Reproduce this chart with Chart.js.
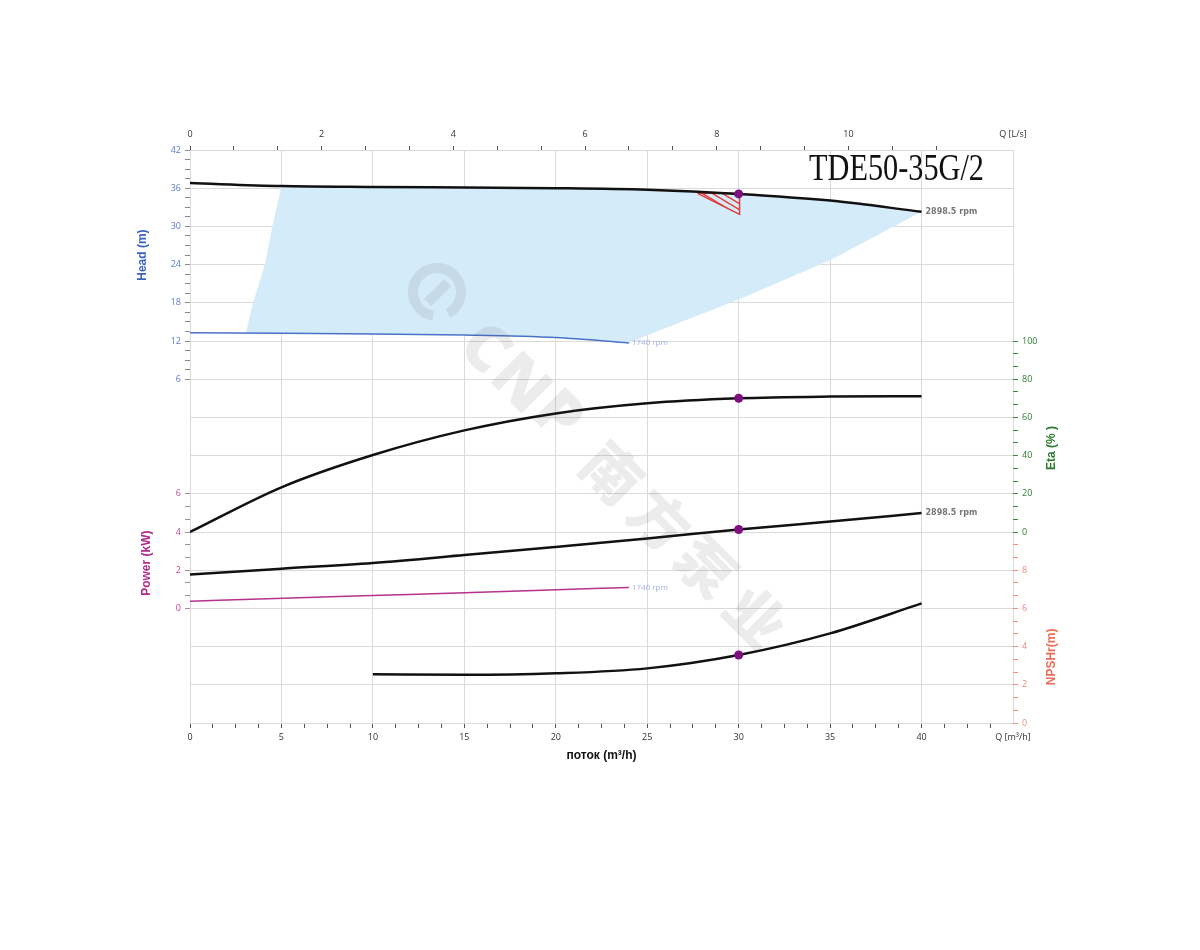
<!DOCTYPE html>
<html>
<head>
<meta charset="utf-8">
<title>TDE50-35G/2</title>
<script src="https://cdn.jsdelivr.net/npm/chart.js@4.4.1/dist/chart.umd.min.js"></script>
<style>
  html, body { margin: 0; padding: 0; background: #fff; }
  canvas { display: block; }
</style>
</head>
<body>
<canvas id="grafico" width="1200" height="950"></canvas>
<script>
// ==============================
// Datos (Q en m³/h)
// ==============================
const qHead = [0, 5, 10, 15, 20, 25, 30, 35, 40];
const head2898 = [36.8, 36.35, 36.2, 36.1, 36.0, 35.75, 35.1, 34.05, 32.3];
const q1740 = [0, 5, 10, 15, 20, 24];
const head1740 = [13.3, 13.2, 13.1, 12.95, 12.55, 11.7];
const eta = [0, 23.4, 40.3, 53.2, 62.1, 67.4, 70.0, 70.9, 71.1];
const power2898 = [1.78, 2.08, 2.38, 2.79, 3.22, 3.66, 4.13, 4.55, 4.99];
const qPower1740 = [0, 6, 12, 18, 24];
const power1740 = [0.38, 0.56, 0.73, 0.91, 1.1];
const qNpsh = [10, 15, 20, 25, 30, 35, 40];
const npsh = [2.55, 2.52, 2.6, 2.86, 3.56, 4.69, 6.26];
const dutyQ = 30;

// limites de la zona de trabajo (azul)
const rightEdgeQ = [40, 35, 30, 25, 24];
const rightEdgeH = [32.3, 24.7, 18.5, 12.9, 11.7];
const leftEdgeQ = [3.05, 3.45, 4.1, 4.5, 5];
const leftEdgeH = [13.2, 18, 24, 30, 36.35];

// triangulo rayado
const triQ = [27.75, 30.05, 30.05, 27.75];
const triH = [35.2, 35.2, 31.9, 35.2];

// ==============================
const pts = (xs, ys) => xs.map((x, i) => ({ x: x, y: ys[i] }));
const near = (v, m) => Math.abs(v / m - Math.round(v / m)) < 1e-6;
const clear = 'rgba(0,0,0,0)';
const gridColor = '#dadada';

const areaPts = [
    ...pts(qHead, head2898).filter(p => p.x >= 5),
    ...pts(rightEdgeQ, rightEdgeH),
    ...pts(q1740, head1740).filter(p => p.x >= 5 && p.x < 24).reverse(),
    ...pts(leftEdgeQ, leftEdgeH)
];

const canvas = document.getElementById('grafico');
const ctx = canvas.getContext('2d');

// patron rayado rojo
const hatch = document.createElement('canvas');
hatch.width = 10; hatch.height = 6;
const hc = hatch.getContext('2d');
hc.strokeStyle = '#e53935';
hc.lineWidth = 1.5;
hc.beginPath();
for (let k = -1; k <= 1; k++) {
    hc.moveTo(0, 6 * k);
    hc.lineTo(10, 6 * k + 6);
}
hc.stroke();
const hatchPattern = ctx.createPattern(hatch, 'repeat');

const dutyRadius = c => (c.raw && c.raw.x === dutyQ) ? 4.5 : 0;

const curve = (label, data, axis, color, width, marker) => ({
    label: label,
    data: data,
    xAxisID: 'x',
    yAxisID: axis,
    borderColor: color,
    borderWidth: width,
    fill: false,
    cubicInterpolationMode: 'monotone',
    pointRadius: marker ? dutyRadius : 0,
    pointBackgroundColor: '#7d0f80',
    pointBorderWidth: 0,
    order: 1
});

// textos fijos
const textos = {
    id: 'textos',
    afterDatasetsDraw(chart) {
        const c = chart.ctx;
        const s = chart.scales;
        c.save();

        // marca de agua
        c.save();
        c.translate(437, 292);
        c.rotate(Math.PI / 4);
        c.fillStyle = 'rgba(70,70,70,0.10)';
        c.strokeStyle = 'rgba(70,70,70,0.10)';
        c.lineWidth = 10;
        c.beginPath();
        c.arc(0, 0, 24, 0.3 * Math.PI, 2.1 * Math.PI);
        c.stroke();
        c.fillRect(-4, -14, 10, 28);
        c.textAlign = 'center';
        c.textBaseline = 'middle';
        const latin = '900 64px "Noto Sans"';
        const cjk = '900 58px "Noto Sans CJK SC"';
        const marca = [['C', 74, 8, latin], ['N', 124, 8, latin], ['P', 173, 4, latin],
            ['南', 252, 4, cjk], ['方', 319, 4, cjk], ['泵', 385, 4, cjk], ['业', 455, 4, cjk]];
        marca.forEach(m => {
            c.font = m[3];
            c.fillText(m[0], m[1], m[2]);
        });
        c.restore();

        // etiquetas de velocidad
        c.textAlign = 'left';
        c.textBaseline = 'middle';
        c.font = 'bold 8px "DejaVu Sans"';
        c.fillStyle = '#777';
        const qEnd = qHead[qHead.length - 1];
        c.fillText('2898.5 rpm', s.x.getPixelForValue(qEnd) + 4, s.yH.getPixelForValue(head2898[head2898.length - 1]));
        c.fillText('2898.5 rpm', s.x.getPixelForValue(qEnd) + 4, s.yP.getPixelForValue(power2898[power2898.length - 1]));
        c.font = '8px "Open Sans"';
        c.fillStyle = '#a6afe6';
        c.fillText('1740 rpm', s.x.getPixelForValue(q1740[q1740.length - 1]) + 3, s.yH.getPixelForValue(head1740[head1740.length - 1]));
        c.fillText('1740 rpm', s.x.getPixelForValue(qPower1740[qPower1740.length - 1]) + 3, s.yP.getPixelForValue(power1740[power1740.length - 1]));

        // titulo del modelo
        c.save();
        c.font = '37px "Liberation Serif"';
        c.fillStyle = '#111';
        c.textBaseline = 'alphabetic';
        const w = c.measureText('TDE50-35G/2').width;
        const sx = Math.min(1, 175 / w);
        c.translate(984 - w * sx, 180);
        c.scale(sx, 1);
        c.fillText('TDE50-35G/2', 0, 0);
        c.restore();

        // titulos de ejes
        const vertical = (txt, x, y, color) => {
            c.save();
            c.translate(x, y);
            c.rotate(-Math.PI / 2);
            c.textAlign = 'center';
            c.textBaseline = 'middle';
            c.font = 'bold 12px "Liberation Sans"';
            c.fillStyle = color;
            c.fillText(txt, 0, 0);
            c.restore();
        };
        vertical('Head (m)', 143, s.yH.getPixelForValue(25.5), '#3d64c4');
        vertical('Power (kW)', 147, s.yP.getPixelForValue(2.37), '#b0288a');
        vertical('Eta (% )', 1052, s.yE.getPixelForValue(44), '#2a7a2a');
        vertical('NPSHr(m)', 1052, s.yN.getPixelForValue(3.46), '#ec6e5a');

        c.textAlign = 'center';
        c.textBaseline = 'middle';
        c.font = 'bold 12px "Liberation Sans"';
        c.fillStyle = '#111';
        c.fillText('поток (m³/h)', (chart.chartArea.left + chart.chartArea.right) / 2, 756);
        c.restore();
    }
};

const tickFont = { family: '"Open Sans"', size: 9 };

new Chart(ctx, {
    type: 'line',
    data: {
        datasets: [
            {
                label: 'zona',
                data: areaPts,
                xAxisID: 'x',
                yAxisID: 'yH',
                fill: 'shape',
                backgroundColor: '#d4ebf9',
                borderWidth: 0,
                pointRadius: 0,
                tension: 0,
                order: 10
            },
            {
                label: 'npsh zona',
                data: pts(triQ, triH),
                xAxisID: 'x',
                yAxisID: 'yH',
                fill: 'shape',
                backgroundColor: hatchPattern,
                borderColor: '#e53935',
                borderWidth: 1.4,
                pointRadius: 0,
                tension: 0,
                order: 5
            },
            curve('H 2898.5', pts(qHead, head2898), 'yH', '#111', 2.5, true),
            curve('H 1740', pts(q1740, head1740), 'yH', '#4a72c8', 1.5, false),
            curve('Eta', pts(qHead, eta), 'yE', '#111', 2.5, true),
            curve('P 2898.5', pts(qHead, power2898), 'yP', '#111', 2.5, true),
            curve('P 1740', pts(qPower1740, power1740), 'yP', '#b5338a', 1.5, false),
            curve('NPSHr', pts(qNpsh, npsh), 'yN', '#111', 2.5, true)
        ]
    },
    options: {
        responsive: false,
        animation: false,
        events: [],
        layout: { padding: 0 },
        plugins: {
            legend: { display: false },
            tooltip: { enabled: false }
        },
        scales: {
            x: {
                type: 'linear', position: 'bottom', min: 0, max: 45,
                afterFit: sc => { sc.height = 950 - 723; },
                border: { display: false },
                grid: {
                    color: c => near(c.tick.value, 5) ? gridColor : clear,
                    tickColor: c => c.tick.value < 44.9 ? '#555' : clear,
                    tickLength: 5
                },
                ticks: {
                    stepSize: 1.25, autoSkip: false, maxRotation: 0, minRotation: 0, padding: 4,
                    font: tickFont, color: '#333',
                    callback: v => v > 44.9 ? 'Q [m³/h]' : (near(v, 5) ? String(Math.round(v)) : '')
                }
            },
            xT: {
                type: 'linear', position: 'top', min: 0, max: 12.5,
                afterFit: sc => { sc.height = 150; },
                border: { display: false },
                grid: {
                    drawOnChartArea: false,
                    tickColor: c => c.tick.value < 11.5 ? '#555' : clear,
                    tickLength: 4
                },
                ticks: {
                    stepSize: 2 / 3, autoSkip: false, maxRotation: 0, minRotation: 0, padding: 6,
                    font: tickFont, color: '#333',
                    callback: v => v > 12.4 ? 'Q [L/s]' : ((v < 11 && near(v, 2)) ? String(Math.round(v)) : '')
                }
            },
            yH: {
                type: 'linear', position: 'left', min: -48, max: 42,
                afterFit: sc => { sc.width = 190; },
                border: { display: false },
                grid: {
                    color: c => near(c.tick.value, 6) ? gridColor : clear,
                    tickColor: c => {
                        const v = c.tick.value;
                        if (v > 5.99 && near(v, 1.5)) return '#8a8a8a';
                        if (v > -30.01 && v < -11.99 && near(v, 2)) return '#a58aa0';
                        return clear;
                    },
                    tickLength: 5
                },
                ticks: {
                    stepSize: 0.5, autoSkip: false, padding: 4, font: tickFont,
                    color: c => c.tick.value > 0 ? '#5a7bd0' : '#c2479b',
                    callback: v => {
                        if (v > 5.99 && near(v, 6)) return String(Math.round(v));
                        if (v > -30.01 && v < -11.99 && near(v + 30, 6)) return String(Math.round((v + 30) / 3));
                        return '';
                    }
                }
            },
            yP: { type: 'linear', display: false, min: -6, max: 24 },
            yE: {
                type: 'linear', position: 'right', min: -100, max: 200,
                afterFit: sc => { sc.width = 1200 - 1013; },
                border: { display: false },
                grid: {
                    drawOnChartArea: false,
                    tickColor: c => {
                        const v = c.tick.value;
                        if (v > -0.01 && v < 100.01) return '#3f8a45';
                        if (v > -100.01 && v < 0) return '#ef8f80';
                        return clear;
                    },
                    tickLength: 5
                },
                ticks: {
                    stepSize: 20 / 3, autoSkip: false, padding: 4, font: tickFont,
                    color: c => c.tick.value > -0.01 ? '#2e7d32' : '#ee8a78',
                    callback: v => {
                        if (v > -0.01 && v < 100.01 && near(v, 20)) return String(Math.round(v));
                        if (v < -19.99 && v > -100.01 && near(v + 100, 20)) return String(Math.round((v + 100) / 10));
                        return '';
                    }
                }
            },
            yN: { type: 'linear', display: false, min: 0, max: 30 }
        }
    },
    plugins: [textos]
});
</script>
</body>
</html>
